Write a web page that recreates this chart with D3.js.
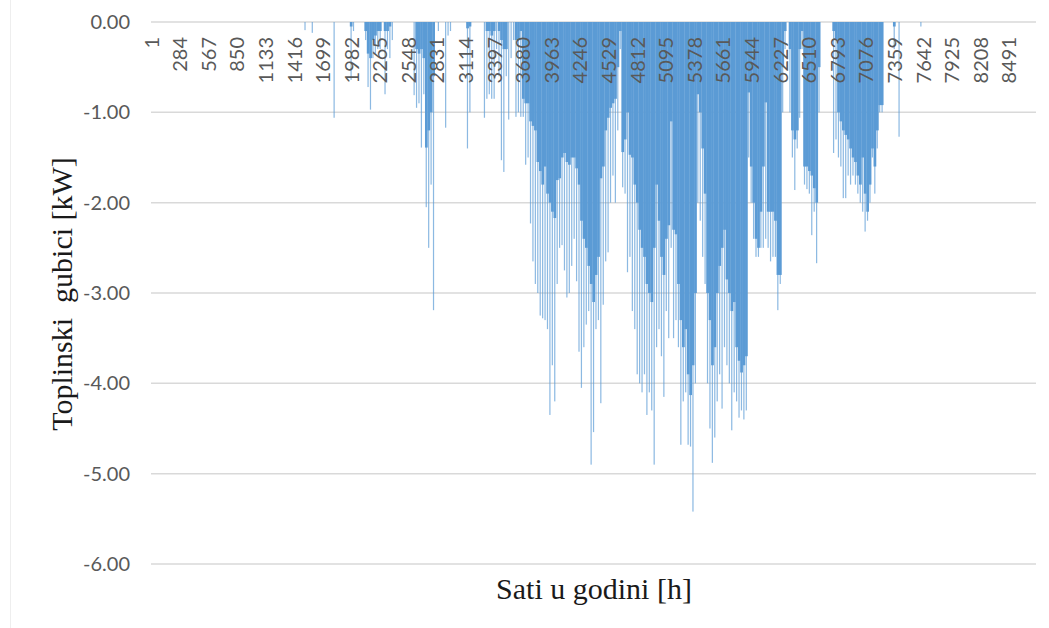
<!DOCTYPE html>
<html>
<head>
<meta charset="utf-8">
<script src="https://cdn.jsdelivr.net/npm/d3@7"></script>
<style>
  html, body { margin: 0; padding: 0; background: #fff; }
  svg { display: block; }
</style>
</head>
<body>
<div id="app"></div>
<script>
// hourly heat loss, summarised per day: the level reached most of the day (core)
// and the deepest hourly value of that day (peak), kW
const coreLoss = [
  0,0,0,0,0,0,0,0,0,0, 0,0,0,0,0,0,0,0,0,0, 0,0,0,0,0,0,0,0,0,0,
  0,0,0,0,0,0,0,0,0,0, 0,0,0,0,0,0,0,0,0,0, 0,0,0,0,0,0,0,0,0,0,
  0,0,0,0,0,0,0,0,0,0,                       // 60
  0,0,0,0,0,0,0,0,0,0,                       // 70
  0,0,-0.05,0,0,0,0,0,-0.1,-0.35,            // 80
  -0.4,-0.2,-0.15,-0.1,-0.1,0,-0.1,-0.1,-0.05,0,
  0,0,0,0,0,0,0,0,0,-0.3,                    // 100
  -0.35,-0.3,-0.4,-1.39,-1.2,-1.0,-0.6,0,0,0,
  0,0,0,0,0,0,0,0,0,0,                       // 120
  -0.07,-0.05,0,0,0,0,0,0,-0.1,-0.1,
  -0.15,-0.1,0,-0.1,-0.2,-0.3,-0.3,0,0,0,    // 140
  -0.2,-0.2,-0.1,-0.85,-0.9,-0.9,-1.1,-1.15,-1.2,-1.55,
  -1.65,-1.8,-1.6,-1.9,-2.0,-2.1,-2.17,-1.75,-1.73,-1.5,   // 160
  -1.45,-1.55,-1.58,-1.5,-1.5,-1.62,-1.8,-2.2,-2.4,-2.5,
  -2.7,-2.9,-3.1,-2.8,-2.6,-1.73,-1.6,-1.2,-1.06,-0.95,    // 180
  -0.9,-0.85,-0.5,-0.1,-1.44,-1.3,-1.0,-1.47,-1.5,-1.8,
  -2.0,-2.3,-2.5,-2.6,-2.9,-3.0,-3.1,-2.5,-1.8,-2.2,       // 200
  -2.6,-2.8,-2.4,-2.25,-1.1,-2.3,-2.35,-2.9,-3.3,-3.6,
  -3.4,-3.9,-4.13,-3.8,-3.0,-0.8,-1.0,-1.4,-1.9,-3.0,      // 220
  -3.3,-3.8,-3.6,-3.0,-2.7,-2.5,-2.3,-2.85,-3.0,-3.2,
  -3.1,-3.6,-3.75,-3.88,-3.8,-3.7,-0.78,-1.6,-2.0,-2.4,    // 240
  -2.5,-2.1,-1.6,-0.89,-2.1,-2.1,-2.1,-2.2,-2.8,-2.8,
  -0.5,-0.1,0,-0.3,-1.2,-1.3,-1.2,-0.3,-0.1,-1.6,          // 260
  -1.6,-1.65,-1.7,-1.84,-2.0,-0.5,0,0,0,0,
  0,-0.1,-0.2,-1.0,-1.1,-1.2,-1.25,-1.3,-1.4,-1.5,         // 280
  -1.55,-1.7,-1.8,-1.5,-1.9,-2.1,-1.8,-1.4,-1.6,-1.2,
  -0.92,-0.92,0,0,0,0,-0.05,0,0,0,                         // 300
  0,0,0,0,0,0,0,0,0,0,
  0,0,0,0,0,0,0,0,0,0, 0,0,0,0,0,0,0,0,0,0,  // 320
  0,0,0,0,0,0,0,0,0,0, 0,0,0,0,0,0,0,0,0,0,
  0,0,0,0,0
];
const peakLoss = [
  0,0,0,0,0,0,0,0,0,0, 0,0,0,0,0,0,0,0,0,0, 0,0,0,0,0,0,0,0,0,0,
  0,0,0,0,0,0,0,0,0,0, 0,0,0,0,0,0,0,0,0,0, 0,0,0,0,0,0,0,0,0,0,
  0,0,0,-0.09,0,0,-0.12,0,0,0,               // 60
  0,0,0,0,0,-1.06,0,0,0,0,                   // 70
  0,0,-0.64,-0.1,0,0,0,0,-0.2,-0.72,         // 80
  -0.97,-0.4,-0.35,-0.3,-0.3,0,-0.8,-0.3,-0.4,-0.2,
  0,0,0,0,0,0,0,0,-0.81,-0.95,               // 100
  -0.9,-1.39,-0.8,-2.05,-2.5,-1.8,-3.19,0,-0.1,0,
  0,-1.17,-0.15,-0.1,0,0,0,0,0,0,            // 120
  -1.4,-1.0,0,0,0,0,0,-1.06,-0.85,-0.8,
  -0.85,-0.85,-0.3,-0.6,-1.53,-1.66,-0.6,-1.08,-0.4,-0.2,  // 140
  -1.05,-1.0,-1.05,-1.05,-1.58,-1.5,-2.23,-2.65,-2.9,-3.0,
  -3.25,-3.28,-3.3,-3.4,-4.35,-3.8,-4.2,-2.9,-2.5,-2.47,   // 160
  -2.75,-3.05,-3.0,-2.7,-2.4,-2.87,-3.65,-4.05,-3.6,-3.35,
  -3.2,-4.9,-4.54,-3.4,-3.3,-4.22,-3.13,-2.65,-2.55,-2.0,  // 180
  -1.7,-2.0,-1.2,-0.3,-1.83,-1.9,-2.77,-2.6,-3.2,-3.4,
  -3.9,-4.0,-4.1,-3.9,-4.35,-4.1,-4.3,-4.9,-3.6,-3.4,      // 200
  -3.7,-4.15,-3.2,-3.5,-2.5,-3.5,-3.3,-3.6,-4.68,-4.2,
  -4.1,-4.68,-4.7,-5.42,-4.0,-2.0,-2.2,-2.6,-2.9,-4.0,     // 220
  -4.5,-4.88,-4.6,-4.2,-3.9,-4.28,-3.6,-3.8,-4.0,-4.52,
  -4.1,-4.2,-4.38,-4.3,-4.4,-4.3,-1.5,-2.0,-2.4,-2.6,      // 240
  -2.6,-2.5,-2.5,-2.4,-2.5,-2.65,-2.6,-2.6,-3.19,-2.9,
  -1.0,-0.3,0,-1.0,-1.5,-1.86,-1.4,-1.06,-0.3,-1.8,        // 260
  -1.85,-1.9,-2.36,-2.1,-2.67,-1.0,0,0,0,0,
  0,-1.45,-1.3,-1.5,-1.6,-1.95,-1.95,-1.7,-1.8,-1.7,       // 280
  -1.8,-1.9,-2.0,-2.1,-2.32,-2.2,-2.0,-1.5,-1.9,-1.4,
  -1.0,-1.0,0,0,0,0,-0.3,0,-1.27,0,                        // 300
  0,0,0,0,0,0,0,-0.05,0,0,
  0,0,0,0,0,0,0,0,0,0, 0,0,0,0,0,0,0,0,0,0,  // 320
  0,0,0,0,0,0,0,0,0,0, 0,0,0,0,0,0,0,0,0,0,
  0,0,0,0,0
];
const hourTicks = [1, 284, 567, 850, 1133, 1416, 1699, 1982, 2265, 2548, 2831,
  3114, 3397, 3680, 3963, 4246, 4529, 4812, 5095, 5378, 5661, 5944, 6227,
  6510, 6793, 7076, 7359, 7642, 7925, 8208, 8491];
const lossTicks = [0, -1, -2, -3, -4, -5, -6];
const hoursInYear = 8760;
const xTitle = "Sati u godini [h]";
const yTitle = "Toplinski gubici [kW]";

const width = 1049, height = 628;
const margin = { top: 22, right: 13, bottom: 64, left: 151 };
const blue = "#5b9bd5";

const svg = d3.select("#app").append("svg")
    .attr("width", width)
    .attr("height", height);

const x = d3.scaleLinear()
    .domain([0.5, hoursInYear + 0.5])
    .range([margin.left, width - margin.right]);

const y = d3.scaleLinear()
    .domain([-6, 0])
    .range([height - margin.bottom, margin.top]);

// faint outer chart border on the left
svg.append("line")
    .attr("x1", 10.5).attr("x2", 10.5)
    .attr("y1", 0).attr("y2", height)
    .attr("stroke", "#eeeeee");

// grid
svg.append("g")
    .selectAll("line")
    .data(lossTicks)
    .join("line")
    .attr("x1", x.range()[0]).attr("x2", x.range()[1])
    .attr("y1", d => y(d)).attr("y2", d => y(d))
    .attr("stroke", "#d9d9d9")
    .attr("stroke-width", 1.5);

const days = d3.range(coreLoss.length);
const dayStart = d => x(d * 24 + 0.5);
const dayW = x(24) - x(0);

// hourly peaks of each day (thin, lighter)
svg.append("g")
    .selectAll("rect")
    .data(days.filter(d => peakLoss[d] < 0))
    .join("rect")
    .attr("x", d => x(d * 24 + 7))
    .attr("width", x(12) - x(0))
    .attr("y", y(0))
    .attr("height", d => y(peakLoss[d]) - y(0))
    .attr("fill", blue)
    .attr("fill-opacity", 0.7);

// level held through most of the day (solid)
svg.append("g")
    .selectAll("rect")
    .data(days.filter(d => coreLoss[d] < 0))
    .join("rect")
    .attr("x", d => dayStart(d))
    .attr("width", dayW + 0.3)
    .attr("y", y(0))
    .attr("height", d => y(coreLoss[d]) - y(0))
    .attr("fill", blue);

// y axis
svg.append("g")
    .attr("transform", `translate(${margin.left},0)`)
    .call(d3.axisLeft(y).tickValues(lossTicks).tickSize(0).tickPadding(21)
        .tickFormat(d => d.toFixed(2)))
    .call(g => g.select(".domain").remove())
    .call(g => g.selectAll("text")
        .attr("fill", "#595959")
        .attr("font-family", "Lato, 'Open Sans', sans-serif")
        .attr("font-size", 20));

// x axis (labels hang under the zero line)
svg.append("g")
    .attr("transform", `translate(0,${y(0)})`)
    .call(d3.axisBottom(x).tickValues(hourTicks).tickSize(0).tickFormat(d3.format("d")))
    .call(g => g.select(".domain").remove())
    .call(g => g.selectAll("text")
        .attr("transform", "rotate(-90)")
        .attr("x", -15)
        .attr("y", 0)
        .attr("dy", "0.35em")
        .attr("text-anchor", "end")
        .attr("fill", "#595959")
        .attr("font-family", "Lato, 'Open Sans', sans-serif")
        .attr("font-size", 20));

// axis titles
svg.append("text")
    .attr("x", 594)
    .attr("y", 599)
    .attr("text-anchor", "middle")
    .attr("font-family", "'Liberation Serif', 'Times New Roman', serif")
    .attr("font-size", 30)
    .attr("fill", "#1a1a1a")
    .text(xTitle);

svg.append("text")
    .attr("transform", "translate(72,294) rotate(-90)")
    .attr("text-anchor", "middle")
    .attr("font-family", "'Liberation Serif', 'Times New Roman', serif")
    .attr("font-size", 30)
    .attr("fill", "#1a1a1a")
    .style("white-space", "pre")
    .text(yTitle.replace(" ", "  "));
</script>
</body>
</html>
